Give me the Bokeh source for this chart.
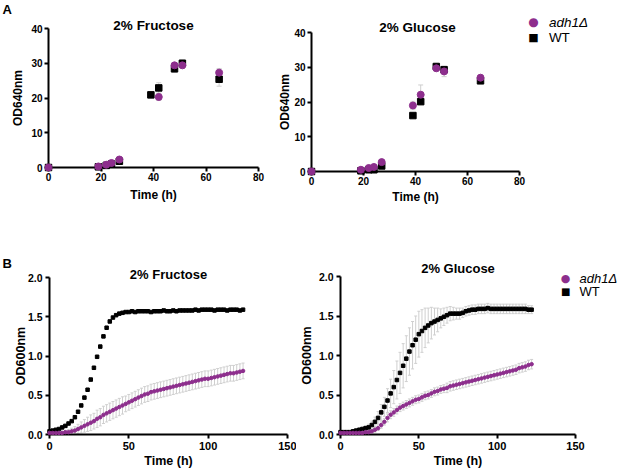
from bokeh.plotting import figure
from bokeh.models import (Range1d, FixedTicker, Whisker, ColumnDataSource,
                          NumeralTickFormatter, TeeHead)
from bokeh.core.properties import value
from bokeh.layouts import column, row
from bokeh.embed import file_html
from bokeh.resources import INLINE

PURPLE = "#8d2e8d"
BLACK = "#000000"
ERR = "#cfcfcf"
FONT = "Liberation Sans"

# ---------------- Panel A data (flask cultures, OD640nm) ----------------
A_TIME = [0, 19, 22, 24, 27, 39, 42, 48, 51, 65]
A_TIME_FRU_ADH = [0, 19, 22, 24, 27, 42, 48, 51, 65]
A_FRU_ADH = [0.0, 0.3, 0.8, 1.3, 2.3, 20.3, 29.4, 29.4, 27.3]
A_FRU_ADH_ERR = [0.0, 0.1, 0.2, 0.2, 0.4, 1.0, 0.8, 0.8, 1.2]
A_FRU_WT = [0.0, 0.2, 0.6, 1.0, 1.8, 20.9, 22.9, 28.4, 30.0, 25.4]
A_FRU_WT_ERR = [0.0, 0.1, 0.1, 0.2, 0.3, 0.8, 1.5, 0.9, 0.9, 2.0]
A_GLU_ADH = [0.0, 0.5, 1.0, 1.3, 2.7, 19.0, 22.1, 29.7, 28.8, 27.0]
A_GLU_ADH_ERR = [0.0, 0.1, 0.2, 0.2, 0.4, 1.2, 2.8, 0.8, 1.5, 0.7]
A_GLU_WT = [0.0, 0.2, 0.5, 0.5, 1.6, 16.1, 20.1, 30.2, 29.3, 26.1]
A_GLU_WT_ERR = [0.0, 0.1, 0.1, 0.1, 0.3, 0.6, 0.8, 1.0, 0.8, 0.6]
A_XTICKS = [0, 20, 40, 60, 80]
A_YTICKS = [0, 10, 20, 30, 40]

# ---------------- Panel B data (plate reader, OD600nm) ----------------
B_TIME = [0, 2, 4, 6, 8, 10, 12, 14, 16, 18,
          20, 22, 24, 26, 28, 30, 32, 34, 36, 38,
          40, 42, 44, 46, 48, 50, 52, 54, 56, 58,
          60, 62, 64, 66, 68, 70, 72, 74, 76, 78,
          80, 82, 84, 86, 88, 90, 92, 94, 96, 98,
          100, 102, 104, 106, 108, 110, 112, 114, 116, 118,
          120, 122]
B_FRU_WT = [0.04, 0.05, 0.06, 0.07, 0.09, 0.11, 0.14, 0.17, 0.22, 0.29,
            0.37, 0.47, 0.57, 0.70, 0.85, 0.99, 1.12, 1.25, 1.36, 1.44,
            1.49, 1.52, 1.54, 1.55, 1.56, 1.56, 1.57, 1.56, 1.57, 1.57,
            1.57, 1.57, 1.56, 1.57, 1.57, 1.57, 1.58, 1.57, 1.57, 1.58,
            1.57, 1.58, 1.58, 1.58, 1.58, 1.58, 1.59, 1.58, 1.59, 1.59,
            1.59, 1.59, 1.58, 1.59, 1.59, 1.59, 1.58, 1.59, 1.59, 1.59,
            1.58, 1.59]
B_FRU_WT_ERR = [0.01, 0.01, 0.01, 0.01, 0.01, 0.01, 0.01, 0.01, 0.01, 0.01,
                0.01, 0.02, 0.02, 0.02, 0.02, 0.02, 0.02, 0.02, 0.02, 0.02,
                0.01, 0.01, 0.01, 0.01, 0.01, 0.01, 0.01, 0.01, 0.01, 0.01,
                0.01, 0.01, 0.01, 0.01, 0.01, 0.01, 0.01, 0.01, 0.01, 0.01,
                0.01, 0.01, 0.01, 0.01, 0.01, 0.01, 0.01, 0.01, 0.01, 0.01,
                0.01, 0.01, 0.01, 0.01, 0.01, 0.01, 0.01, 0.01, 0.01, 0.01,
                0.01, 0.01]
B_FRU_ADH = [0.02, 0.02, 0.02, 0.02, 0.02, 0.03, 0.03, 0.04, 0.05, 0.07,
             0.09, 0.11, 0.13, 0.15, 0.17, 0.20, 0.22, 0.25, 0.27, 0.29,
             0.31, 0.33, 0.35, 0.37, 0.39, 0.41, 0.43, 0.45, 0.47, 0.49,
             0.51, 0.52, 0.54, 0.55, 0.56, 0.57, 0.58, 0.59, 0.60, 0.61,
             0.62, 0.63, 0.64, 0.65, 0.66, 0.67, 0.68, 0.69, 0.70, 0.71,
             0.71, 0.72, 0.73, 0.74, 0.75, 0.76, 0.77, 0.78, 0.78, 0.79,
             0.80, 0.81]
B_FRU_ADH_ERR = [0.01, 0.01, 0.01, 0.01, 0.02, 0.02, 0.03, 0.04, 0.05, 0.06,
                 0.07, 0.08, 0.09, 0.10, 0.10, 0.11, 0.11, 0.11, 0.11, 0.11,
                 0.11, 0.11, 0.11, 0.11, 0.10, 0.10, 0.10, 0.10, 0.10, 0.10,
                 0.10, 0.10, 0.10, 0.10, 0.10, 0.10, 0.10, 0.10, 0.10, 0.10,
                 0.10, 0.10, 0.10, 0.10, 0.10, 0.10, 0.10, 0.10, 0.10, 0.10,
                 0.10, 0.10, 0.10, 0.10, 0.10, 0.10, 0.10, 0.10, 0.10, 0.10,
                 0.10, 0.10]
B_GLU_WT = [0.03, 0.03, 0.03, 0.03, 0.04, 0.05, 0.06, 0.07, 0.08, 0.09,
            0.12, 0.16, 0.21, 0.28, 0.35, 0.43, 0.52, 0.60, 0.69, 0.78,
            0.87, 0.96, 1.05, 1.13, 1.20, 1.27, 1.31, 1.35, 1.38, 1.41,
            1.43, 1.45, 1.47, 1.49, 1.51, 1.53, 1.53, 1.53, 1.53, 1.54,
            1.56, 1.57, 1.58, 1.58, 1.59, 1.59, 1.59, 1.60, 1.59, 1.59,
            1.59, 1.59, 1.59, 1.59, 1.59, 1.59, 1.59, 1.59, 1.59, 1.59,
            1.58, 1.58]
B_GLU_WT_ERR = [0.01, 0.01, 0.01, 0.01, 0.01, 0.02, 0.02, 0.02, 0.03, 0.04,
                0.05, 0.06, 0.08, 0.10, 0.12, 0.15, 0.18, 0.21, 0.24, 0.26,
                0.28, 0.29, 0.30, 0.30, 0.30, 0.29, 0.27, 0.25, 0.22, 0.20,
                0.17, 0.15, 0.12, 0.11, 0.10, 0.09, 0.08, 0.07, 0.07, 0.06,
                0.06, 0.06, 0.06, 0.06, 0.06, 0.06, 0.06, 0.06, 0.06, 0.06,
                0.06, 0.06, 0.06, 0.06, 0.06, 0.06, 0.06, 0.06, 0.06, 0.06,
                0.05, 0.05]
B_GLU_ADH = [0.02, 0.02, 0.02, 0.02, 0.02, 0.02, 0.02, 0.02, 0.03, 0.03,
             0.04, 0.06, 0.08, 0.12, 0.16, 0.21, 0.25, 0.28, 0.31, 0.34,
             0.36, 0.38, 0.40, 0.42, 0.44, 0.45, 0.47, 0.49, 0.50, 0.52,
             0.54, 0.55, 0.57, 0.58, 0.59, 0.61, 0.62, 0.63, 0.64, 0.65,
             0.66, 0.67, 0.68, 0.69, 0.70, 0.71, 0.72, 0.73, 0.74, 0.75,
             0.76, 0.77, 0.78, 0.79, 0.80, 0.81, 0.82, 0.84, 0.85, 0.86,
             0.88, 0.89]
B_GLU_ADH_ERR = [0.01, 0.01, 0.01, 0.01, 0.01, 0.01, 0.01, 0.01, 0.01, 0.02,
                 0.02, 0.03, 0.03, 0.04, 0.04, 0.05, 0.05, 0.05, 0.05, 0.05,
                 0.05, 0.05, 0.05, 0.05, 0.05, 0.05, 0.05, 0.05, 0.05, 0.05,
                 0.05, 0.05, 0.05, 0.05, 0.06, 0.06, 0.06, 0.06, 0.06, 0.06,
                 0.06, 0.06, 0.06, 0.06, 0.06, 0.06, 0.06, 0.06, 0.06, 0.06,
                 0.06, 0.06, 0.06, 0.06, 0.06, 0.06, 0.06, 0.06, 0.06, 0.06,
                 0.06, 0.06]
B_XTICKS = [0, 50, 100, 150]
B_YTICKS = [0.0, 0.5, 1.0, 1.5, 2.0]

TITLES = ["2% Fructose", "2% Glucose"]
LEG_ADH = "adh1\u0394"
LEG_WT = "WT"


def make_fig(w, h, bl, br, bt, bb, xr, yr, xticks, yticks, ylabel,
             tick_px_x, tick_px_y, lab_px, x_std, y_std, xl_std, yl_std):
    p = figure(width=w, height=h, x_range=Range1d(*xr), y_range=Range1d(*yr),
               output_backend="svg", toolbar_location=None,
               min_border_left=bl, min_border_right=br,
               min_border_top=bt, min_border_bottom=bb)
    p.frame_align = False
    p.outline_line_color = None
    p.xgrid.visible = False
    p.ygrid.visible = False
    p.xaxis.ticker = FixedTicker(ticks=xticks)
    p.yaxis.ticker = FixedTicker(ticks=yticks)
    for ax in (p.xaxis[0], p.yaxis[0]):
        ax.axis_line_width = 2
        ax.axis_line_color = BLACK
        ax.major_tick_line_width = 2
        ax.major_tick_line_color = BLACK
        ax.major_tick_out = 4
        ax.major_tick_in = 0
        ax.minor_tick_line_color = None
        ax.major_label_text_font = FONT
        ax.major_label_text_font_style = "bold"
        ax.major_label_text_color = BLACK
        ax.axis_label_text_font = FONT
        ax.axis_label_text_font_style = "bold"
        ax.axis_label_text_color = BLACK
        ax.axis_label_text_font_size = lab_px
    p.xaxis.major_label_text_font_size = tick_px_x
    p.yaxis.major_label_text_font_size = tick_px_y
    p.xaxis.major_label_standoff = x_std
    p.yaxis.major_label_standoff = y_std
    p.xaxis.axis_label_standoff = xl_std
    p.yaxis.axis_label_standoff = yl_std
    p.xaxis.axis_label = "Time (h)"
    p.yaxis.axis_label = ylabel
    return p


def add_series(p, t, y, err, kind, color, size, head):
    src = ColumnDataSource(dict(t=t, y=y,
                                lo=[a - b for a, b in zip(y, err)],
                                hi=[a + b for a, b in zip(y, err)]))
    wh = Whisker(base="t", lower="lo", upper="hi", source=src,
                 line_color=ERR, line_width=1,
                 upper_head=TeeHead(size=head, line_color=ERR, line_width=1),
                 lower_head=TeeHead(size=head, line_color=ERR, line_width=1))
    p.add_layout(wh)
    r = p.scatter("t", "y", source=src, marker=kind, size=size,
                  fill_color=color, line_color=color, level="overlay")
    return r


def add_text(p, x, y, text, size, style="bold", align="center", baseline="middle",
             font=FONT, color=BLACK):
    p.text(x=[x], y=[y], text=[text], text_font=value(font), text_font_size=value(size),
           text_font_style=value(style), text_align=value(align),
           text_baseline=value(baseline), text_color=color, level="overlay")


def add_legend(p, x_mark, y_adh, y_wt, x_txt, fsize, csize, ssize):
    # legend symbols drawn as text glyphs so they can sit outside the plot frame
    add_text(p, x_mark, y_adh, "\u25cf", csize, "normal", "center", "middle",
             "DejaVu Sans", PURPLE)
    add_text(p, x_mark, y_wt, "\u25a0", ssize, "normal", "center", "middle",
             "DejaVu Sans", BLACK)
    add_text(p, x_txt, y_adh, LEG_ADH, fsize, "italic", "left", "middle")
    add_text(p, x_txt, y_wt, LEG_WT, fsize, "normal", "left", "middle")


# ---------------- Panel A ----------------
a1 = make_fig(268, 238, 48, 10, 28, 71, (0, 80), (0, 40), A_XTICKS, A_YTICKS,
              "OD640nm", "10px", "10px", "12px", 1, 2, 4, 3)
add_series(a1, A_TIME, A_FRU_WT, A_FRU_WT_ERR, "square", BLACK, 6.5, 5)
add_series(a1, A_TIME_FRU_ADH, A_FRU_ADH, A_FRU_ADH_ERR, "circle", PURPLE, 7, 5)
add_text(a1, 40, 40.86, TITLES[0], "13.5px")
add_text(a1, -17.5, 45.6, "A", "13px", "bold", "left")

a2 = make_fig(349, 238, 43, 98, 32, 67, (0, 80), (0, 40), A_XTICKS, A_YTICKS,
              "OD640nm", "10px", "10px", "12px", 1, 2, 2, -1)
add_series(a2, A_TIME, A_GLU_WT, A_GLU_WT_ERR, "square", BLACK, 6.5, 5)
add_series(a2, A_TIME, A_GLU_ADH, A_GLU_ADH_ERR, "circle", PURPLE, 7, 5)
add_text(a2, 40.8, 41.53, TITLES[1], "13.5px")
add_legend(a2, 85.4, 42.9, 38.6, 91.3, "13.5px", "12px", "11px")

# ---------------- Panel B ----------------
b1 = make_fig(296, 232, 49, 9, 39, 36, (0, 150), (0, 2.0), B_XTICKS, B_YTICKS,
              "OD600nm", "11px", "10.5px", "12.5px", 3, 3, 1, -3)
b1.yaxis.formatter = NumeralTickFormatter(format="0.0")
add_series(b1, B_TIME, B_FRU_WT, B_FRU_WT_ERR, "square", BLACK, 3.5, 3)
add_series(b1, B_TIME, B_FRU_ADH, B_FRU_ADH_ERR, "circle", PURPLE, 3.5, 3)
add_text(b1, 75, 2.04, TITLES[0], "13px")
add_text(b1, -29.6, 2.175, "B", "13px", "bold", "left")

b2 = make_fig(321, 232, 41, 42, 38, 36, (0, 150), (0, 2.0), B_XTICKS, B_YTICKS,
              "OD600nm", "11px", "10.5px", "12.5px", 3, 3, 1, 2)
b2.yaxis.formatter = NumeralTickFormatter(format="0.0")
add_series(b2, B_TIME, B_GLU_WT, B_GLU_WT_ERR, "square", BLACK, 3.5, 3)
add_series(b2, B_TIME, B_GLU_ADH, B_GLU_ADH_ERR, "circle", PURPLE, 3.5, 3)
add_text(b2, 75, 2.10, TITLES[1], "13px")
add_legend(b2, 143.7, 1.975, 1.804, 152.6, "13px", "11px", "10px")

layout = column(row(a1, a2, spacing=0), row(b1, b2, spacing=0), spacing=0)
open("out.html", "w").write(file_html(layout, INLINE))
